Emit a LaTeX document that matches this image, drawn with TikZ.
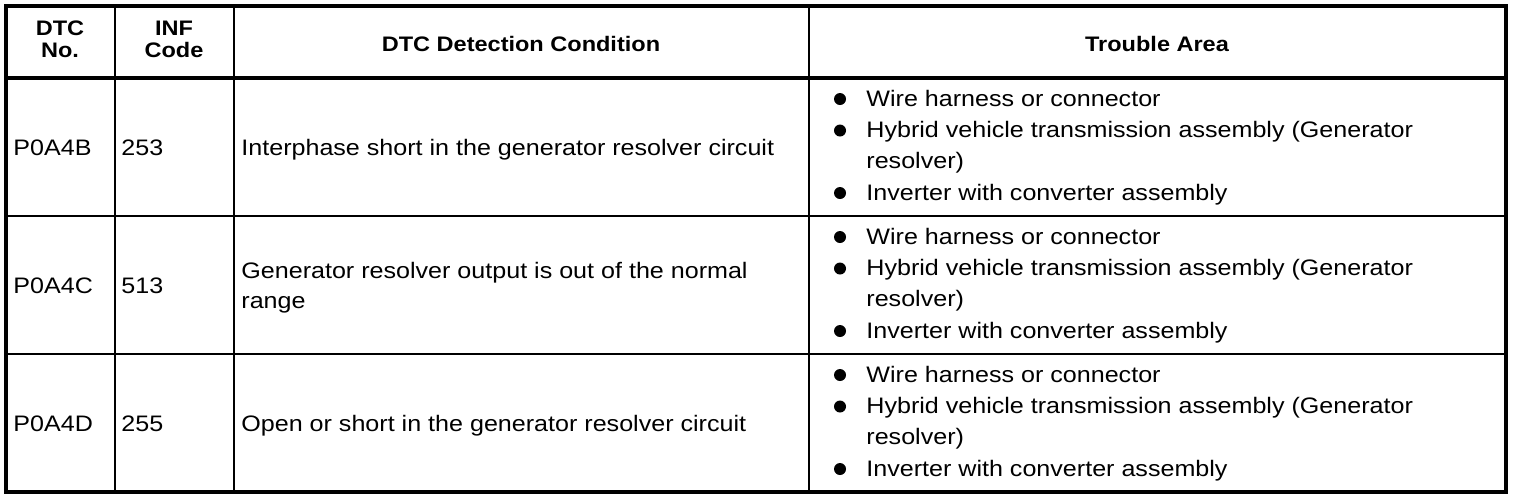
\documentclass[tikz,border=0pt]{standalone}
\usepackage{fontspec}
\setmainfont{Liberation Sans}
\newfontfamily\bodyfont[FakeStretch=1.12]{Liberation Sans}
\begin{document}
\begin{tikzpicture}[x=0.5pt,y=-0.5pt,
  txt/.style={inner sep=0pt, anchor=base west, font=\bodyfont\fontsize{11.2}{15}\selectfont},
  hdr/.style={inner sep=0pt, anchor=base, font=\bodyfont\fontsize{10.5}{11}\selectfont\bfseries},
  bul/.style={circle, fill=black, inner sep=0pt, minimum size=6pt},
  thick border/.style={line width=2pt},
  thin rule/.style={line width=1pt}]
\useasboundingbox (0,0) rectangle (1520,500);
% inner rules
\draw[thin rule] (115,6) -- (115,492);
\draw[thin rule] (234,6) -- (234,492);
\draw[thin rule] (809,6) -- (809,492);
\draw[thin rule] (6,216) -- (1506,216);
\draw[thin rule] (6,354) -- (1506,354);
% header rule and outer border
\draw[thick border] (6,78) -- (1506,78);
\draw[thick border] (6,6) rectangle (1506,492);
% header
\node[hdr] (h1a) at (60,35) {DTC};
\node[hdr] (h1b) at (60,57) {No.};
\node[hdr] (h2a) at (174,35) {INF};
\node[hdr] (h2b) at (174,57) {Code};
\node[hdr] (h3) at (521,51) {DTC Detection Condition};
\node[hdr] (h4) at (1157,51) {Trouble Area};
% rows
\foreach \t/\code/\inf/\n in {78/P0A4B/253/1, 216/P0A4C/513/2, 354/P0A4D/255/3}{
  \node[txt] (code\n) at (13,{\t+77}) {\code};
  \node[txt] (inf\n) at (121,{\t+77}) {\inf};
  \node[bul] (bA\n) at (840,{\t+21}) {};
  \node[txt] (tA\n) at (866,{\t+28}) {Wire harness or connector};
  \node[bul] (bB\n) at (840,{\t+52.5}) {};
  \node[txt] (tB\n) at (866,{\t+59.5}) {Hybrid vehicle transmission assembly (Generator};
  \node[txt] (tC\n) at (866,{\t+90.5}) {resolver)};
  \node[bul] (bD\n) at (840,{\t+115}) {};
  \node[txt] (tD\n) at (866,{\t+122}) {Inverter with converter assembly};
}
\node[txt] (cond1) at (241,155) {Interphase short in the generator resolver circuit};
\node[txt] (cond2a) at (241,278) {Generator resolver output is out of the normal};
\node[txt] (cond2b) at (241,308) {range};
\node[txt] (cond3) at (241,431) {Open or short in the generator resolver circuit};
\end{tikzpicture}
\end{document}
